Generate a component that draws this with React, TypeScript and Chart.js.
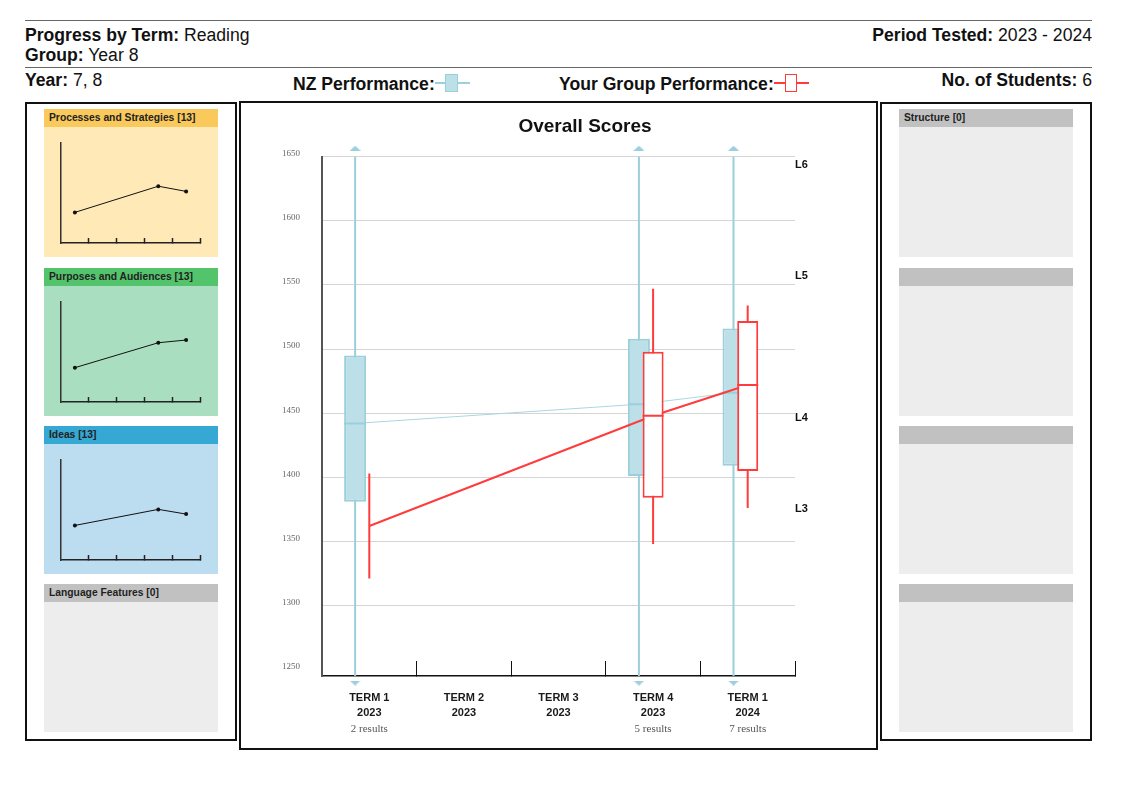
import React, { useEffect, useRef } from 'react';
import { Chart, registerables } from 'chart.js';

Chart.register(...registerables);

// ---------------- data ----------------
const termLabels = ['TERM 1', 'TERM 2', 'TERM 3', 'TERM 4', 'TERM 1'];
const yearLabels = ['2023', '2023', '2023', '2023', '2024'];
const resultLabels = ['2 results', '', '', '5 results', '7 results'];

const yTickValues = [1250, 1300, 1350, 1400, 1450, 1500, 1550, 1600, 1650];
const yAxisMin = 1245;
const yAxisMax = 1650;

const levelValues = [1644, 1557, 1446, 1375];
const levelLabels = ['L6', 'L5', 'L4', 'L3'];

const nzMin = [1190, null, null, 1205, 1215];
const nzQ1 = [1381, null, null, 1401, 1409];
const nzMedian = [1442, null, null, 1457, 1466];
const nzQ3 = [1495, null, null, 1508, 1516];
const nzMax = [1695, null, null, 1705, 1710];

const groupMin = [1321, null, null, 1348, 1376];
const groupQ1 = [null, null, null, 1384, 1405];
const groupMedian = [1362, null, null, 1448, 1472];
const groupQ3 = [null, null, null, 1498, 1522];
const groupMax = [1403, null, null, 1547, 1534];

const leftStrandNames = ['Processes and Strategies', 'Purposes and Audiences', 'Ideas', 'Language Features'];
const leftStrandCounts = [13, 13, 13, 0];
const processesScores = [1369, null, null, 1475, 1454];
const purposesScores = [1384, null, null, 1485, 1496];
const ideasScores = [1385, null, null, 1450, 1431];
const languageScores: (number | null)[] = [null, null, null, null, null];

const rightStrandNames = ['Structure', '', '', ''];
const rightStrandCounts: (number | null)[] = [0, null, null, null];

// ---------------- styles ----------------
const SANS = '"Liberation Sans", Arial, Helvetica, sans-serif';
const SERIF = '"Liberation Serif", "Times New Roman", Times, serif';
const NZ_FILL = '#bde0e8';
const NZ_LINE = '#9bcfdc';
const NZ_TREND = '#a9d7e2';
const GROUP_RED = '#ff3b3b';
const NZ_SHIFT = -0.15;

const leftStyles = [
  { header: '#f9c95c', body: '#fee9b7' },
  { header: '#53c46b', body: '#a9dfc0' },
  { header: '#35a8d3', body: '#bcdcef' },
  { header: '#c1c1c1', body: '#ededed' },
];
const greyStyle = { header: '#c1c1c1', body: '#ededed' };
const panelTops = [109, 268, 426, 584];

Chart.defaults.font.family = SANS;

function makeTriangle(up: boolean, color: string) {
  const c = document.createElement('canvas');
  c.width = 11;
  c.height = 5;
  const g = c.getContext('2d');
  if (g) {
    g.fillStyle = color;
    g.beginPath();
    if (up) {
      g.moveTo(5.5, 0);
      g.lineTo(11, 5);
      g.lineTo(0, 5);
    } else {
      g.moveTo(0, 0);
      g.lineTo(11, 0);
      g.lineTo(5.5, 5);
    }
    g.closePath();
    g.fill();
  }
  return c;
}

const has = (a: (number | null)[], i: number) => a[i] !== null && a[i] !== undefined;

function OverallChart() {
  const ref = useRef<HTMLCanvasElement>(null);
  useEffect(() => {
    const canvas = ref.current;
    if (!canvas) return;
    const idx = termLabels.map((_, i) => i);
    const nzX = (i: number) => i + NZ_SHIFT;

    const nzWhiskers = idx.filter(i => has(nzMin, i)).map(i => ({ x: nzX(i), y: [nzMin[i], nzMax[i]] }));
    const nzBoxes = idx.filter(i => has(nzQ1, i)).map(i => ({ x: nzX(i), y: [nzQ1[i], nzQ3[i]] }));
    const nzMeds = idx.filter(i => has(nzMedian, i)).map(i => ({ x: nzX(i), y: nzMedian[i] }));
    const nzUp = idx.filter(i => has(nzMax, i) && (nzMax[i] as number) > yAxisMax).map(i => ({ x: nzX(i), y: yAxisMax + 6.7 }));
    const nzDown = idx.filter(i => has(nzMin, i) && (nzMin[i] as number) < yAxisMin).map(i => ({ x: nzX(i), y: yAxisMin - 5.5 }));

    const grWhiskers = idx.filter(i => has(groupMin, i)).map(i => ({ x: i, y: [groupMin[i], groupMax[i]] }));
    const grBoxes = idx.filter(i => has(groupQ1, i)).map(i => ({ x: i, y: [groupQ1[i], groupQ3[i]] }));
    const grTrend = idx.filter(i => has(groupMedian, i)).map(i => ({ x: i, y: groupMedian[i] }));
    const grBoxMeds = idx.filter(i => has(groupQ1, i)).map(i => ({ x: i, y: groupMedian[i] }));

    const xTicks: { value: number }[] = [];
    idx.forEach(i => { xTicks.push({ value: i }); xTicks.push({ value: i + 0.5 }); });

    const chart = new Chart(canvas, {
      type: 'bar',
      data: {
        datasets: [
          { type: 'bar', data: nzWhiskers as any, backgroundColor: NZ_LINE, barThickness: 2, borderWidth: 0, inflateAmount: 0, grouped: false, clip: 0, order: 7 } as any,
          { type: 'line', data: nzMeds as any, borderColor: NZ_TREND, borderWidth: 1, pointRadius: 0, fill: false, order: 6 } as any,
          { type: 'bar', data: nzBoxes as any, backgroundColor: NZ_FILL, borderColor: NZ_LINE, borderWidth: 2, borderSkipped: false, inflateAmount: 0, barThickness: 22, grouped: false, order: 5 } as any,
          { type: 'line', data: nzMeds as any, showLine: false, pointStyle: 'line', pointRadius: 11, pointBorderWidth: 2, pointBorderColor: NZ_LINE, order: 4 } as any,
          { type: 'bar', data: grWhiskers as any, backgroundColor: GROUP_RED, barThickness: 2, borderWidth: 0, inflateAmount: 0, grouped: false, clip: 0, order: 3 } as any,
          { type: 'line', data: grTrend as any, borderColor: GROUP_RED, borderWidth: 2, pointRadius: 0, fill: false, order: 2 } as any,
          { type: 'bar', data: grBoxes as any, backgroundColor: '#ffffff', borderColor: GROUP_RED, borderWidth: 2, borderSkipped: false, inflateAmount: 0, barThickness: 21, grouped: false, order: 1 } as any,
          { type: 'line', data: grBoxMeds as any, showLine: false, pointStyle: 'line', pointRadius: 10.5, pointBorderWidth: 2, pointBorderColor: GROUP_RED, order: 0 } as any,
          { type: 'line', data: nzUp as any, showLine: false, pointStyle: makeTriangle(true, NZ_LINE), pointRadius: 10, clip: false, order: 8 } as any,
          { type: 'line', data: nzDown as any, showLine: false, pointStyle: makeTriangle(false, NZ_LINE), pointRadius: 10, clip: false, order: 8 } as any,
        ],
      },
      options: {
        animation: false,
        responsive: false,
        events: [],
        layout: { padding: 0 },
        plugins: {
          legend: { display: false },
          tooltip: { enabled: false },
          title: {
            display: true,
            text: 'Overall Scores',
            color: '#111',
            font: { family: SANS, size: 19, weight: 'bold', lineHeight: 1.2 },
            padding: { top: 11, bottom: 19 },
          },
        },
        scales: {
          x: {
            type: 'linear', position: 'bottom', min: -0.5, max: 4.5, offset: false, weight: 0,
            afterBuildTicks: (s: any) => { s.ticks = xTicks.map(t => ({ value: t.value })); },
            afterFit: (s: any) => { s.height = 45; },
            grid: {
              display: true, drawOnChartArea: false, drawTicks: true, offset: false, tickLength: -15, tickWidth: 1,
              tickColor: (c: any) => (c.tick && c.tick.value % 1 !== 0 ? '#111' : 'rgba(0,0,0,0)'),
            },
            border: { display: true, color: '#111', width: 1.5 },
            ticks: {
              autoSkip: false, maxRotation: 0, minRotation: 0, padding: 29.5, color: '#1a1a1a',
              font: { family: SANS, size: 11, weight: 'bold', lineHeight: 15 / 11 },
              callback: (v: any) => (Number(v) % 1 === 0 ? [termLabels[Number(v)], yearLabels[Number(v)]] : ''),
            },
          },
          x2: {
            type: 'linear', position: 'bottom', min: -0.5, max: 4.5, offset: false, weight: 1,
            afterBuildTicks: (s: any) => { s.ticks = termLabels.map((_, i) => ({ value: i })); },
            afterFit: (s: any) => { s.height = 27; },
            grid: { display: false, drawOnChartArea: false, drawTicks: false, offset: false },
            border: { display: false },
            ticks: {
              autoSkip: false, maxRotation: 0, minRotation: 0, padding: 2, color: '#555',
              font: { family: SERIF, size: 11, lineHeight: 1.1 },
              callback: (v: any) => resultLabels[Number(v)] || '',
            },
          },
          y: {
            type: 'linear', position: 'left', min: yAxisMin, max: yAxisMax, beginAtZero: false,
            afterBuildTicks: (s: any) => { s.ticks = yTickValues.map(v => ({ value: v })); },
            afterFit: (s: any) => { s.width = 80; },
            grid: {
              drawTicks: false, lineWidth: 1,
              color: (c: any) => (c.tick && c.tick.value === yTickValues[0] ? 'rgba(0,0,0,0)' : '#d5d5d5'),
            },
            border: { display: true, color: '#555', width: 2 },
            ticks: {
              padding: 22, labelOffset: -3, color: '#666',
              font: { family: SERIF, size: 9 },
              callback: (v: any) => String(v),
            },
          },
          y2: {
            type: 'linear', position: 'right', min: yAxisMin, max: yAxisMax, beginAtZero: false,
            afterBuildTicks: (s: any) => { s.ticks = levelValues.map(v => ({ value: v })); },
            afterFit: (s: any) => { s.width = 133; },
            grid: { display: false, drawTicks: false },
            border: { display: false },
            ticks: {
              padding: 0, color: '#111',
              font: { family: SANS, size: 11, weight: 'bold' },
              callback: (v: any) => levelLabels[levelValues.indexOf(Number(v))] || '',
            },
          },
        },
      } as any,
    });
    return () => chart.destroy();
  }, []);
  return (
    <canvas
      ref={ref}
      width={686}
      height={644}
      style={{ position: 'absolute', left: 242, top: 104, width: 686, height: 644 }}
    />
  );
}

function MiniChart({ scores }: { scores: (number | null)[] }) {
  const ref = useRef<HTMLCanvasElement>(null);
  useEffect(() => {
    const canvas = ref.current;
    if (!canvas) return;
    const pts = scores.map((v, i) => (v === null ? null : { x: i, y: v })).filter(p => p !== null);
    const chart = new Chart(canvas, {
      type: 'line',
      data: {
        datasets: [
          {
            data: pts as any,
            borderColor: '#111',
            borderWidth: 1,
            pointRadius: 2,
            pointBackgroundColor: '#111',
            pointBorderWidth: 0,
            fill: false,
          },
        ],
      },
      options: {
        animation: false,
        responsive: false,
        events: [],
        layout: { padding: { left: 17, right: 18, top: 16, bottom: 14 } },
        plugins: { legend: { display: false }, tooltip: { enabled: false } },
        scales: {
          x: {
            type: 'linear', min: -0.5, max: 4.5,
            afterBuildTicks: (s: any) => { s.ticks = termLabels.map((_, i) => ({ value: i + 0.5 })); },
            afterFit: (s: any) => { s.height = 0; },
            grid: { display: true, drawOnChartArea: false, drawTicks: true, tickLength: -5, tickWidth: 1.5, tickColor: '#222' },
            border: { display: true, color: '#222', width: 1.5 },
            ticks: { display: false },
          },
          y: {
            type: 'linear', min: yAxisMin, max: yAxisMax,
            afterFit: (s: any) => { s.width = 0; },
            grid: { display: false, drawTicks: false },
            border: { display: true, color: '#333', width: 1.5 },
            ticks: { display: false },
          },
        },
      } as any,
    });
    return () => chart.destroy();
  }, []);
  return <canvas ref={ref} width={174} height={130} style={{ position: 'absolute', left: 0, top: 0 }} />;
}

function StrandPanel(props: { left: number; top: number; title: string; colors: { header: string; body: string }; scores?: (number | null)[] }) {
  const { left, top, title, colors, scores } = props;
  const hasData = !!scores && scores.some(v => v !== null);
  return (
    <div style={{ position: 'absolute', left, top, width: 174, height: 148 }}>
      <div
        style={{
          height: 18, background: colors.header, fontSize: 10.3, fontWeight: 'bold', lineHeight: '18px',
          paddingLeft: 5, color: '#222', whiteSpace: 'nowrap', overflow: 'hidden',
        }}
      >
        {title}
      </div>
      <div style={{ position: 'relative', height: 130, background: colors.body }}>
        {hasData && <MiniChart scores={scores as (number | null)[]} />}
      </div>
    </div>
  );
}

const headStyle = (top: number, extra: React.CSSProperties): React.CSSProperties => ({
  position: 'absolute', top: top - 9, lineHeight: '20px', fontSize: 17.6, whiteSpace: 'nowrap', color: '#111', ...extra,
});

function NzIcon() {
  return (
    <span style={{ position: 'relative', display: 'inline-block', width: 35, height: 18, verticalAlign: -3 }}>
      <span style={{ position: 'absolute', left: 0, top: 7, width: 35, height: 2, background: NZ_LINE }} />
      <span style={{ position: 'absolute', left: 10, top: -1, width: 11, height: 16, background: NZ_FILL, border: `1.5px solid ${NZ_LINE}` }} />
    </span>
  );
}

function GroupIcon() {
  return (
    <span style={{ position: 'relative', display: 'inline-block', width: 35, height: 18, verticalAlign: -3 }}>
      <span style={{ position: 'absolute', left: 0, top: 7, width: 35, height: 2, background: GROUP_RED }} />
      <span style={{ position: 'absolute', left: 11, top: -1, width: 10, height: 16, background: '#fff', border: `1.5px solid ${GROUP_RED}` }} />
    </span>
  );
}

export default function App() {
  const leftScores = [processesScores, purposesScores, ideasScores, languageScores];
  return (
    <div style={{ position: 'absolute', left: 0, top: 0, width: 1129, height: 789, fontFamily: SANS, background: '#fff' }}>
      <div style={{ position: 'absolute', left: 25, top: 20, width: 1067, height: 1, background: '#666' }} />
      <div style={headStyle(34, { left: 25 })}><b>Progress by Term:</b> Reading</div>
      <div style={headStyle(34, { right: 37 })}><b>Period Tested:</b> 2023 - 2024</div>
      <div style={headStyle(54, { left: 25 })}><b>Group:</b> Year 8</div>
      <div style={{ position: 'absolute', left: 25, top: 67, width: 1067, height: 1, background: '#666' }} />
      <div style={headStyle(79, { left: 25 })}><b>Year:</b> 7, 8</div>
      <div style={headStyle(83, { left: 293 })}><b>NZ Performance:</b><NzIcon /></div>
      <div style={headStyle(83, { left: 559 })}><b>Your Group Performance:</b><GroupIcon /></div>
      <div style={headStyle(79, { right: 37 })}><b>No. of Students:</b> 6</div>

      <div style={{ position: 'absolute', left: 25, top: 102, width: 212, height: 639, border: '2px solid #111', boxSizing: 'border-box' }} />
      {leftStrandNames.map((n, i) => (
        <StrandPanel
          key={'l' + i}
          left={44}
          top={panelTops[i]}
          title={`${n} [${leftStrandCounts[i]}]`}
          colors={leftStyles[i]}
          scores={leftScores[i]}
        />
      ))}

      <div style={{ position: 'absolute', left: 239, top: 101, width: 639, height: 649, border: '2px solid #111', boxSizing: 'border-box' }} />
      <OverallChart />

      <div style={{ position: 'absolute', left: 880, top: 102, width: 212, height: 639, border: '2px solid #111', boxSizing: 'border-box', background: '#fff' }} />
      {rightStrandNames.map((n, i) => (
        <StrandPanel
          key={'r' + i}
          left={899}
          top={panelTops[i]}
          title={n ? `${n} [${rightStrandCounts[i]}]` : ''}
          colors={greyStyle}
        />
      ))}
    </div>
  );
}
